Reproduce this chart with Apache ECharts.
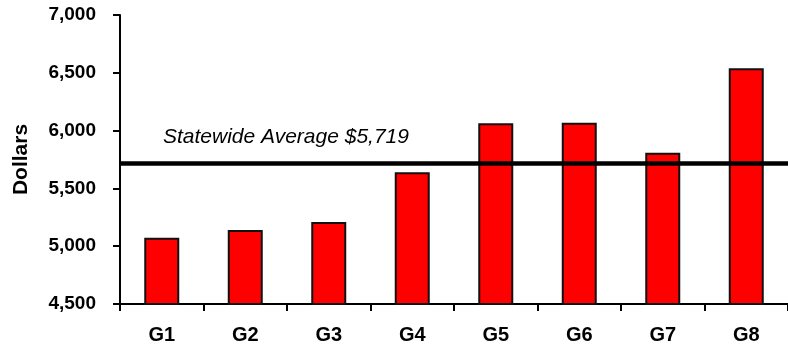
<!DOCTYPE html>
<html>
<head>
<meta charset="utf-8">
<script src="https://cdn.jsdelivr.net/npm/echarts@6/dist/echarts.min.js"></script>
<style>
  html, body { margin: 0; padding: 0; background: #fff; }
  #chart { width: 788px; height: 347px; }
</style>
</head>
<body>
<div id="chart"></div>
<script>
var categories = ['G1', 'G2', 'G3', 'G4', 'G5', 'G6', 'G7', 'G8'];
var dollars = [5073, 5140, 5209, 5639, 6063, 6068, 5809, 6539];
var statewideAverage = 5719;

var font = 'Liberation Sans, Arial, sans-serif';

function withCommas(v) {
  return String(v).replace(/\B(?=(\d{3})+(?!\d))/g, ',');
}

var myChart = echarts.init(document.getElementById('chart'));
var option = {
  animation: false,
  grid: { left: 120, right: -9, top: 15, bottom: 43 },
  xAxis: {
    type: 'category',
    data: categories,
    axisLine: { show: true, lineStyle: { color: '#000', width: 2 } },
    axisTick: {
      show: true, inside: false, alignWithLabel: false, interval: 0, length: 7,
      lineStyle: { color: '#000', width: 2, opacity: 1 }
    },
    axisLabel: {
      color: '#000', fontFamily: font, fontWeight: 'bold', fontSize: 20, margin: 21
    }
  },
  yAxis: {
    type: 'value',
    min: 4500,
    max: 7000,
    interval: 500,
    name: 'Dollars',
    nameLocation: 'middle',
    nameRotate: 90,
    nameGap: 88,
    nameTextStyle: { color: '#000', fontFamily: font, fontWeight: 'bold', fontSize: 21 },
    axisLine: { show: true, lineStyle: { color: '#000', width: 2 } },
    axisTick: {
      show: true, inside: false, length: 7,
      lineStyle: { color: '#000', width: 2, opacity: 1 }
    },
    splitLine: { show: false },
    axisLabel: {
      color: '#000', fontFamily: font, fontWeight: 'bold', fontSize: 19, margin: 24,
      formatter: withCommas
    }
  },
  series: [{
    type: 'bar',
    data: dollars,
    barWidth: 35,
    itemStyle: { color: '#ff0000', borderColor: '#111', borderWidth: 2 },
    markLine: {
      silent: true,
      symbol: 'none',
      lineStyle: { color: '#000', width: 4.5, type: 'solid' },
      label: {
        position: 'insideStartTop',
        distance: [43, 15],
        formatter: 'Statewide Average $' + withCommas(statewideAverage),
        color: '#000', fontFamily: font, fontStyle: 'italic', fontSize: 21
      },
      data: [{ yAxis: statewideAverage }]
    }
  }]
};
myChart.setOption(option);
</script>
</body>
</html>
